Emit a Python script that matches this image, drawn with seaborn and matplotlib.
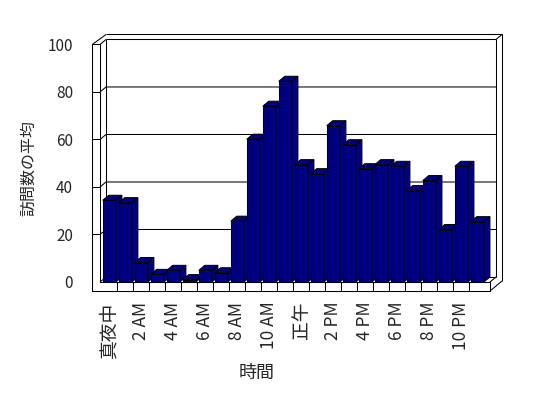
import matplotlib
matplotlib.use('Agg')
import matplotlib.pyplot as plt
import seaborn as sns
import pandas as pd
from matplotlib.patches import Polygon

# ---- data ----
hours = ['真夜中', '1 AM', '2 AM', '3 AM', '4 AM', '5 AM', '6 AM', '7 AM', '8 AM',
         '9 AM', '10 AM', '11 AM', '正午', '1 PM', '2 PM', '3 PM', '4 PM', '5 PM',
         '6 PM', '7 PM', '8 PM', '9 PM', '10 PM', '11 PM']
visits = [34.4, 33.4, 8.2, 3.2, 4.9, 1.0, 4.9, 3.9, 25.6, 60.1, 74.0, 84.5,
          49.4, 45.6, 65.8, 57.8, 47.7, 49.4, 48.7, 38.5, 42.7, 22.1, 48.7, 25.4]
y_ticks = [0, 20, 40, 60, 80, 100]
x_title = '時間'
y_title = '訪問数の平均'

sns.set_style('white')
plt.rcParams['font.family'] = ['Noto Sans CJK JP', 'DejaVu Sans']

W, H = 548, 398
fig = plt.figure(figsize=(W / 100, H / 100), dpi=100)
ax = fig.add_axes([85 / W, 1 - 300 / H, 425 / W, 275 / H])

df = pd.DataFrame({'hour': hours, 'visits': visits})
navy = '#000080'
sns.barplot(data=df, x='hour', y='visits', color=navy, saturation=1, width=0.82,
            edgecolor='black', linewidth=0.75, ax=ax)

ax.set_xlim(-1.519, 25.04)
ax.set_ylim(-7.58, 108.2)

# 3-D depth (data units)
DX, DY = 0.375, 2.105
XL, XLo, XR, YF, TOP = -0.581, -1.06, 23.79, -3.8, y_ticks[-1]
lk = dict(color='black', lw=0.75, zorder=1, solid_capstyle='butt')

# gridlines on wall + back plane, tick marks on wall front face
for y in y_ticks[1:-1]:
    ax.plot([XLo, XL], [y, y], **lk)
    ax.plot([XL, XL + DX, XR + DX], [y, y + DY, y + DY], **lk)

# wall/floor front L-shape
ax.plot([XLo, XL, XL, XR, XR, XLo, XLo], [TOP, TOP, 0, 0, YF, YF, TOP], **lk)
# left wall depth
ax.plot([XL, XL + DX], [TOP, TOP + DY], **lk)
ax.plot([XLo, XL + DX], [TOP, TOP + 2 * DY], **lk)
ax.plot([XL + DX, XL + DX], [DY, TOP + DY], **lk)
ax.plot([XL, XL + DX], [0, DY], **lk)
# back wall top
ax.plot([XL + DX, XR + DX], [TOP + DY, TOP + DY], **lk)
ax.plot([XL + DX, XR + 2 * DX], [TOP + 2 * DY, TOP + 2 * DY], **lk)
# right side
ax.plot([XR + DX, XR + DX], [DY, TOP + DY], **lk)
ax.plot([XR + 2 * DX, XR + 2 * DX], [YF + 2 * DY, TOP + 2 * DY], **lk)
ax.plot([XR + DX, XR + 2 * DX], [TOP + DY, TOP + 2 * DY], **lk)
ax.plot([XR, XR + 2 * DX], [YF, YF + 2 * DY], **lk)
ax.plot([XR, XR + DX], [0, DY], **lk)
ax.plot([XL + DX, XR + DX], [DY, DY], **lk)
# floor dividers
for k in range(len(hours) - 1):
    ax.plot([k + 0.5, k + 0.5], [YF, 0], **lk)

# 3-D bar faces
for i, p in enumerate(list(ax.patches)):
    x0, w, h = p.get_x(), p.get_width(), p.get_height()
    z = 3 + i * 0.01
    p.set_zorder(z)
    side = Polygon([(x0 + w, 0), (x0 + w + DX, DY), (x0 + w + DX, h + DY), (x0 + w, h)],
                   closed=True, facecolor=navy, edgecolor='black', lw=0.75, zorder=z + 0.005)
    top = Polygon([(x0, h), (x0 + w, h), (x0 + w + DX, h + DY), (x0 + DX, h + DY)],
                  closed=True, facecolor=navy, edgecolor='black', lw=0.75, zorder=z + 0.005)
    ax.add_patch(side)
    ax.add_patch(top)

for s in ax.spines.values():
    s.set_visible(False)
ax.set_facecolor('none')

ax.set_xticks(range(0, len(hours), 2))
ax.set_xticklabels(hours[::2], rotation=90)
ax.tick_params(axis='x', length=0, pad=1.2, labelsize=12.5)
for t in ax.get_xticklabels():
    if not t.get_text()[0].isdigit():
        t.set_fontsize(13.5)
ax.set_yticks(y_ticks)
ax.set_yticklabels([str(v) for v in y_ticks])
ax.tick_params(axis='y', length=0, pad=8.6, labelsize=11)

ax.set_xlabel(x_title, fontsize=13)
ax.set_ylabel(y_title, fontsize=11.5)
ax.xaxis.set_label_coords(256.7 / W, 1 - 364 / H, transform=fig.transFigure)
ax.yaxis.set_label_coords(37 / W, 1 - 168 / H, transform=fig.transFigure)

fig.savefig('out.png', dpi=100, facecolor='white')
